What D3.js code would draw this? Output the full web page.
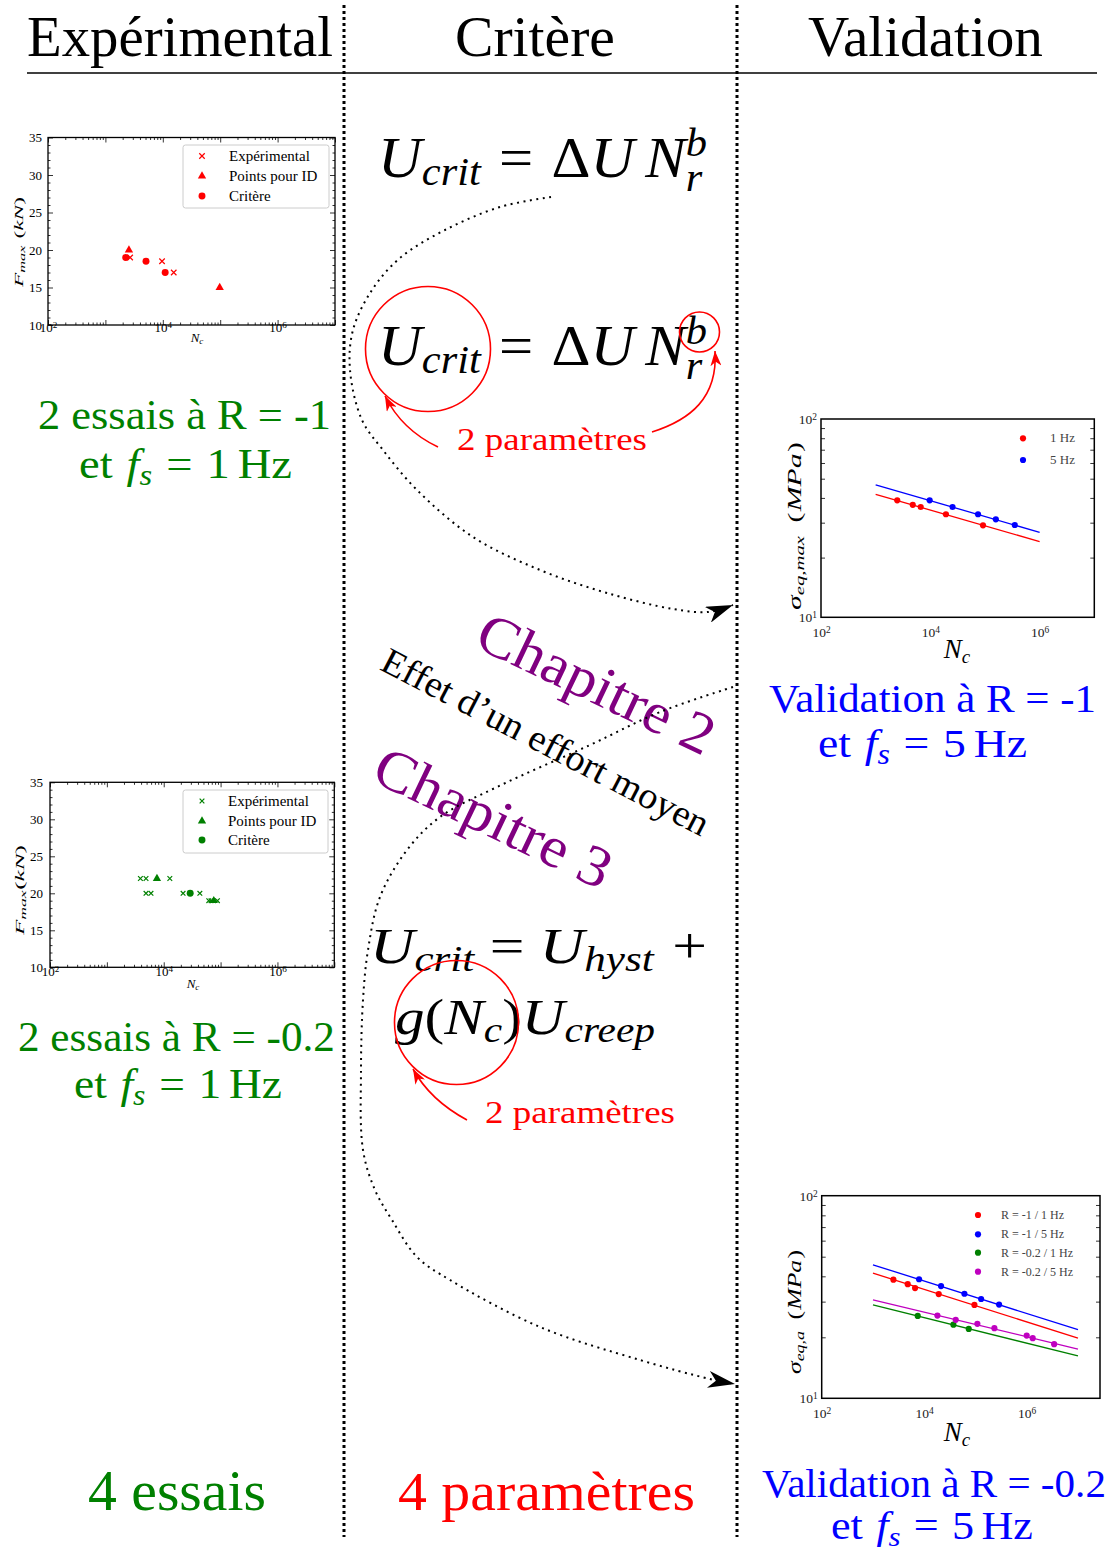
<!DOCTYPE html>
<html><head><meta charset="utf-8">
<script src="https://cdn.jsdelivr.net/npm/d3@7"></script>
<style>body{margin:0;background:#fff}svg{display:block}</style>
</head><body><script>
// ---------------- DATA ----------------
const columnTitles = ["Expérimental", "Critère", "Validation"];
const fTicks = [10, 15, 20, 25, 30, 35];
const fDomain = [10, 35];
const xLabelExps = [2, 4, 6];
const legendLeft = ["Expérimental", "Points pour ID", "Critère"];

// Panel A : R = -1, 1 Hz  (N_c , F_max)
const aExp  = [[2700, 19], [9700, 18.5], [15500, 17]];
const aID   = [[2570, 20], [98000, 15]];
const aCrit = [[2260, 19], [5100, 18.5], [11000, 17]];
// Panel B : R = -0.2, 1 Hz
const bExp  = [[3890, 22], [4880, 22], [12800, 22], [4880, 20], [5970, 20], [21900, 20], [43200, 20], [62000, 19], [68000, 19], [88000, 19]];
const bID   = [[7600, 22], [76000, 19]];
const bCrit = [[29200, 20]];

// Validation 1 (N_c , sigma_eq,max)
const v1Labels = ["1 Hz", "5 Hz"];
const v1Hz = [[2480, 38.9], [4770, 36.9], [6670, 36.0], [19300, 33.1], [92000, 29.1]];
const v5Hz = [[9730, 38.9], [25500, 36.0], [74600, 33.1], [158000, 31.2], [351000, 29.2]];
const v1HzFit = [[1e3, 41.7], [1e6, 24.1]];
const v5HzFit = [[1e3, 46.6], [1e6, 26.8]];

// Validation 2 (N_c , sigma_eq,a)
const v2Labels = ["R = -1 / 1 Hz", "R = -1 / 5 Hz", "R = -0.2 / 1 Hz", "R = -0.2 / 5 Hz"];
const wR1f1  = [[2506, 38.5], [4770, 36.6], [6630, 35.0], [19200, 32.7], [95500, 28.9]];
const wR1f5  = [[7940, 38.7], [21300, 35.8], [60900, 32.8], [129000, 30.9], [289000, 29.0]];
const wR02f1 = [[7480, 25.5], [37150, 23.1], [74000, 22.0]];
const wR02f5 = [[18100, 25.6], [41200, 24.4], [109000, 23.3], [234000, 22.2], [1.0e6, 20.4], [1.31e6, 19.8], [3.43e6, 18.5]];
const wR1f1Fit  = [[1e3, 41.5], [1e7, 19.8]];
const wR1f5Fit  = [[1e3, 45.6], [1e7, 21.8]];
const wR02f1Fit = [[1e3, 28.9], [1e7, 16.2]];
const wR02f5Fit = [[1e3, 30.6], [1e7, 17.5]];

// ---------------- SETUP ----------------
const FONT = '"Liberation Serif","Times New Roman",serif';
const W = 1111, H = 1547;
const svg = d3.select("body").append("svg").attr("width", W).attr("height", H)
  .style("font-family", FONT);
const defs = svg.append("defs");
function arrowMarker(id, color, len, wid) {
  defs.append("marker").attr("id", id).attr("markerUnits", "userSpaceOnUse")
    .attr("viewBox", `0 0 ${len} ${wid}`).attr("markerWidth", len).attr("markerHeight", wid)
    .attr("refX", len).attr("refY", wid / 2).attr("orient", "auto")
    .append("path").attr("d", `M${len},${wid / 2} L0,0 L${len * 0.28},${wid / 2} L0,${wid} Z`).attr("fill", color);
}
arrowMarker("ahBlack", "#000", 27, 17);
arrowMarker("ahRed", "#f00", 15, 11);

// rich text helper (pieces with italic / sub / sup), fitted to a length
function rich(parent, pieces, o) {
  const F = o.F;
  const g = parent.append("g").attr("fill", o.color || "#000");
  const inner = g.append("g");
  let cx = 0;
  const put = (q) => inner.append("text").attr("x", cx).attr("y", (q.dy || 0) * F)
    .attr("font-size", (q.s || 1) * F).attr("font-style", q.i ? "italic" : "normal").text(q.t);
  for (const p of pieces) {
    cx += (p.pre || 0) * F;
    if (p.stack) {
      let w = 0;
      for (const q of p.stack) w = Math.max(w, put(q).node().getComputedTextLength());
      cx += w;
    } else {
      cx += put(p).node().getComputedTextLength();
    }
    cx += (p.post || 0) * F;
  }
  const Wt = cx;
  const sx = o.len ? o.len / Wt : 1;
  const sy = o.uniform ? sx : 1;
  const shift = o.anchor === "middle" ? -Wt / 2 : (o.anchor === "end" ? -Wt : 0);
  inner.attr("transform", `translate(${shift},0)`);
  g.attr("transform", `translate(${o.x},${o.y}) rotate(${o.rot || 0}) scale(${sx},${sy})`);
  return g;
}
const P = (t, extra) => Object.assign({ t }, extra || {});

// ---------------- LAYOUT LINES ----------------
[344, 737].forEach(xv => svg.append("line").attr("x1", xv).attr("x2", xv).attr("y1", 5).attr("y2", 1537)
  .attr("stroke", "#000").attr("stroke-width", 3).attr("stroke-dasharray", "3,3"));
svg.append("line").attr("x1", 27).attr("x2", 1097).attr("y1", 73).attr("y2", 73)
  .attr("stroke", "#000").attr("stroke-width", 1.5);

const titlePos = [[27, 333], [455, 615], [808, 1043]];
columnTitles.forEach((t, i) => rich(svg, [P(t)], { F: 56, x: titlePos[i][0], y: 56, len: titlePos[i][1] - titlePos[i][0] }));

// ---------------- SYMBOLS ----------------
const symX = { draw(c, s) { const r = Math.sqrt(s) / 2; c.moveTo(-r, -r); c.lineTo(r, r); c.moveTo(-r, r); c.lineTo(r, -r); } };
const symbolPath = (type, size) => d3.symbol().type(type).size(size)();

function pow10(sel) {
  sel.selectAll(".tick text").each(function (d) {
    const t = d3.select(this);
    if (!t.text()) return;
    const e = Math.round(Math.log10(d));
    t.text(null);
    t.append("tspan").text("10");
    t.append("tspan").attr("dy", "-0.42em").attr("font-size", "0.7em").text(e);
  });
}
function styleAxis(a, fs, col) {
  a.select(".domain").remove();
  a.attr("color", col || "#000").attr("font-family", FONT).attr("font-size", fs || 12);
  a.selectAll("line").attr("stroke", "#000").attr("stroke-width", 0.8);
}

// ---------------- LEFT PANELS ----------------
function leftPanel(b, exp, id, crit, color, leg, nlab, flab, flabSpace, xsz) {
  const g = svg.append("g");
  const x = d3.scaleLog().domain([1e2, 1e7]).range([b.x0, b.x1]);
  const y = d3.scaleLinear().domain(fDomain).range([b.y1, b.y0]);
  const xMajor = d3.range(2, 8).map(e => Math.pow(10, e));
  const xMinor = [];
  d3.range(2, 7).forEach(e => d3.range(2, 10).forEach(m => xMinor.push(m * Math.pow(10, e))));
  const yMinor = d3.range(fDomain[0], fDomain[1] + 1).filter(v => v % 5 !== 0);
  const add = (tr, axis, fs) => g.append("g").attr("transform", tr).call(axis).call(a => styleAxis(a, fs));
  add(`translate(0,${b.y1})`, d3.axisBottom(x).tickValues(xMinor).tickSize(-2.5).tickFormat(""));
  add(`translate(0,${b.y0})`, d3.axisTop(x).tickValues(xMinor).tickSize(-2.5).tickFormat(""));
  add(`translate(0,${b.y0})`, d3.axisTop(x).tickValues(xMajor).tickSize(-5).tickFormat(""));
  const xb = add(`translate(0,${b.y1})`, d3.axisBottom(x).tickValues(xMajor).tickSize(-5).tickPadding(b.xpad)
    .tickFormat(d => xLabelExps.includes(Math.round(Math.log10(d))) ? "1" : ""), 13);
  pow10(xb);
  add(`translate(${b.x0},0)`, d3.axisLeft(y).tickValues(yMinor).tickSize(-2.5).tickFormat(""));
  add(`translate(${b.x1},0)`, d3.axisRight(y).tickValues(yMinor).tickSize(-2.5).tickFormat(""));
  add(`translate(${b.x1},0)`, d3.axisRight(y).tickValues(fTicks).tickSize(-5).tickFormat(""));
  add(`translate(${b.x0},0)`, d3.axisLeft(y).tickValues(fTicks).tickSize(-5).tickPadding(b.ypad).tickFormat(d3.format("d")), 13);
  g.append("rect").attr("x", b.x0).attr("y", b.y0).attr("width", b.x1 - b.x0).attr("height", b.y1 - b.y0)
    .attr("fill", "none").attr("stroke", "#000").attr("stroke-width", 1.3);

  const draw = (data, type, size, filled) => g.selectAll(null).data(data).join("path")
    .attr("transform", d => `translate(${x(d[0])},${y(d[1])})`)
    .attr("d", symbolPath(type, size))
    .attr("fill", filled ? color : "none").attr("stroke", filled ? "none" : color).attr("stroke-width", 1.2);
  draw(exp, symX, xsz, false);
  draw(id, d3.symbolTriangle, 30, true);
  draw(crit, d3.symbolCircle, 38, true);

  // legend
  g.append("rect").attr("x", leg.x0).attr("y", leg.y0).attr("width", leg.x1 - leg.x0).attr("height", leg.y1 - leg.y0)
    .attr("rx", 2.5).attr("fill", "#fff").attr("stroke", "#ccc").attr("stroke-width", 1);
  const types = [[symX, xsz, false], [d3.symbolTriangle, 30, true], [d3.symbolCircle, 38, true]];
  legendLeft.forEach((lab, i) => {
    const [t, s, f] = types[i];
    g.append("path").attr("transform", `translate(${leg.mx},${leg.rows[i]})`).attr("d", symbolPath(t, s))
      .attr("fill", f ? color : "none").attr("stroke", f ? "none" : color).attr("stroke-width", 1.2);
    g.append("text").attr("x", leg.tx).attr("y", leg.rows[i] + 4.5).attr("font-size", 15).text(lab);
  });
  // axis labels
  rich(g, [P("N", { i: 1 }), P("c", { i: 1, s: 0.7, dy: 0.18 })], { F: 13, x: nlab[0], y: nlab[1], anchor: "middle" });
  rich(g, [P("F", { i: 1 }), P("max", { i: 1, s: 0.7, dy: 0.18 }), P("(", { pre: flabSpace }), P("kN", { i: 1 }), P(")")],
    { F: 13, x: flab[0], y: flab[1], anchor: "middle", rot: -90, len: 90 });
}

leftPanel({ x0: 48, x1: 335, y0: 137.5, y1: 325, xpad: -2, ypad: 6 }, aExp, aID, aCrit, "#ff0000",
  { x0: 183, x1: 329, y0: 145, y1: 208, mx: 202, tx: 229, rows: [156, 176, 196] }, [197, 342], [23, 242], 0.3, 30);
leftPanel({ x0: 50, x1: 334.3, y0: 782.3, y1: 967.3, xpad: -1, ypad: 7 }, bExp, bID, bCrit, "#008000",
  { x0: 183, x1: 328, y0: 790, y1: 853, mx: 202, tx: 228, rows: [801, 821, 840] }, [193, 988], [24, 890], 0.02, 22);

// ---------------- RIGHT PANELS ----------------
function rightPanel(b, xMax, series, leg, ylabPieces, ylab, nlab) {
  const g = svg.append("g");
  const x = d3.scaleLog().domain([1e2, xMax]).range([b.x0, b.x1]);
  const y = d3.scaleLog().domain([10, 100]).range([b.y1, b.y0]);
  const yMinor = d3.range(20, 100, 10);
  const add = (tr, axis, fs) => g.append("g").attr("transform", tr).call(axis).call(a => styleAxis(a, fs, "#222"));
  add(`translate(${b.x0},0)`, d3.axisLeft(y).tickValues(yMinor).tickSize(-4).tickFormat(""));
  add(`translate(${b.x1},0)`, d3.axisRight(y).tickValues(yMinor).tickSize(-4).tickFormat(""));
  const xb = add(`translate(0,${b.y1})`, d3.axisBottom(x).tickValues(xLabelExps.map(e => Math.pow(10, e))).tickSize(0).tickPadding(9.8).tickFormat(() => "1"), 13.5);
  pow10(xb);
  const yb = add(`translate(${b.x0},0)`, d3.axisLeft(y).tickValues([10, 100]).tickSize(0).tickPadding(4).tickFormat(() => "1"), 13.5);
  pow10(yb);
  g.append("rect").attr("x", b.x0).attr("y", b.y0).attr("width", b.x1 - b.x0).attr("height", b.y1 - b.y0)
    .attr("fill", "none").attr("stroke", "#000").attr("stroke-width", 1.5);
  const line = d3.line().x(d => x(d[0])).y(d => y(d[1]));
  series.forEach(s => {
    g.append("path").attr("d", line(s.fit)).attr("fill", "none").attr("stroke", s.color).attr("stroke-width", 1.3);
    g.selectAll(null).data(s.pts).join("path").attr("transform", d => `translate(${x(d[0])},${y(d[1])})`)
      .attr("d", symbolPath(d3.symbolCircle, 30)).attr("fill", s.color);
  });
  series.forEach((s, i) => {
    g.append("path").attr("transform", `translate(${leg.mx},${leg.rows[i]})`).attr("d", symbolPath(d3.symbolCircle, 30)).attr("fill", s.color);
    g.append("text").attr("x", leg.tx).attr("y", leg.rows[i] + 4).attr("font-size", leg.fs).attr("fill", "#444").text(s.label);
  });
  rich(g, ylabPieces, { F: 18, x: ylab[0], y: ylab[1], anchor: "middle", rot: -90, len: ylab[2] });
  rich(g, [P("N", { i: 1 }), P("c", { i: 1, s: 0.7, dy: 0.2 })], { F: 27, x: nlab[0], y: nlab[1], anchor: "middle" });
}

rightPanel({ x0: 821, x1: 1094.3, y0: 419, y1: 617.3 }, 1e7,
  [{ pts: v1Hz, fit: v1HzFit, color: "#ff0000", label: v1Labels[0] },
   { pts: v5Hz, fit: v5HzFit, color: "#0000ff", label: v1Labels[1] }],
  { mx: 1023, tx: 1050, rows: [438.3, 460], fs: 13 },
  [P("σ", { i: 1 }), P("eq,max", { i: 1, s: 0.7, dy: 0.18 }), P("(", { pre: 0.45 }), P("MPa", { i: 1, pre: 0.05, post: 0.05 }), P(")")],
  [801, 526, 168], [957, 658]);

rightPanel({ x0: 821.7, x1: 1100, y0: 1195.7, y1: 1398.3 }, Math.pow(10, 7.43),
  [{ pts: wR1f1, fit: wR1f1Fit, color: "#ff0000", label: v2Labels[0] },
   { pts: wR1f5, fit: wR1f5Fit, color: "#0000ff", label: v2Labels[1] },
   { pts: wR02f1, fit: wR02f1Fit, color: "#008000", label: v2Labels[2] },
   { pts: wR02f5, fit: wR02f5Fit, color: "#bf00bf", label: v2Labels[3] }],
  { mx: 978, tx: 1001, rows: [1215, 1234.3, 1252.7, 1271.7], fs: 12 },
  [P("σ", { i: 1 }), P("eq,a", { i: 1, s: 0.7, dy: 0.18 }), P("(", { pre: 0.45 }), P("MPa", { i: 1, pre: 0.05, post: 0.05 }), P(")")],
  [801, 1312, 124], [957, 1441]);

// ---------------- TEXT BLOCKS ----------------
const GREEN = "#008000", BLUE = "#0000ff", RED = "#ff0000", PURPLE = "#800080";
const etF = (n) => [P("et"), P("f", { i: 1, pre: 0.3 }), P("s", { i: 1, s: 0.7, dy: 0.17 }), P("=", { pre: 0.3, post: 0.3 }), P(n), P("Hz", { pre: 0.17 })];
rich(svg, [P("2 essais à R = -1")], { F: 42, x: 38, y: 429, len: 293, color: GREEN });
rich(svg, etF("1"), { F: 42, x: 79, y: 478, len: 213, color: GREEN });
rich(svg, [P("2 essais à R = -0.2")], { F: 42, x: 18, y: 1051, len: 317, color: GREEN });
rich(svg, etF("1"), { F: 42, x: 74, y: 1098, len: 208, color: GREEN });
rich(svg, [P("4 essais")], { F: 56, x: 88, y: 1510, len: 178, color: GREEN });
rich(svg, [P("4 paramètres")], { F: 56, x: 398, y: 1510, len: 297, color: RED });
rich(svg, [P("Validation à R = -1")], { F: 41, x: 769, y: 712, len: 327, color: BLUE });
rich(svg, etF("5"), { F: 41, x: 818, y: 757, len: 209, color: BLUE });
rich(svg, [P("Validation à R = -0.2")], { F: 41, x: 762, y: 1497, len: 344, color: BLUE });
rich(svg, etF("5"), { F: 40, x: 831, y: 1539, len: 202, color: BLUE });

// formulas
const UcritEq = [P("U", { i: 1 }), P("crit", { i: 1, s: 0.7, dy: 0.14 }), P("=", { pre: 0.3, post: 0.3 }), P("Δ"), P("U", { i: 1 }),
  P("N", { i: 1, pre: 0.18 }), { stack: [P("b", { i: 1, s: 0.7, dy: -0.38 }), P("r", { i: 1, s: 0.7, dy: 0.25 })] }];
rich(svg, UcritEq, { F: 56, x: 378, y: 177, len: 329 });
rich(svg, UcritEq, { F: 56, x: 378, y: 365, len: 329 });
rich(svg, [P("U", { i: 1 }), P("crit", { i: 1, s: 0.7, dy: 0.16 }), P("=", { pre: 0.25, post: 0.25 }), P("U", { i: 1 }),
  P("hyst", { i: 1, s: 0.7, dy: 0.16 }), P("+", { pre: 0.3 })], { F: 50, x: 370, y: 963, len: 337 });
rich(svg, [P("g", { i: 1 }), P("("), P("N", { i: 1 }), P("c", { i: 1, s: 0.7, dy: 0.16 }), P(")"), P("U", { i: 1 }),
  P("creep", { i: 1, s: 0.7, dy: 0.16 })], { F: 50, x: 395, y: 1034, len: 260 });
rich(svg, [P("2 paramètres")], { F: 32, x: 457, y: 450, len: 190, color: RED });
rich(svg, [P("2 paramètres")], { F: 32, x: 485, y: 1123, len: 190, color: RED });

// chapter annotations
rich(svg, [P("Chapitre 2")], { F: 58, x: 588, y: 701, anchor: "middle", rot: 25.5, len: 256, color: PURPLE });
rich(svg, [P("Effet d’un effort moyen")], { F: 37, x: 540, y: 753, anchor: "middle", rot: 27.5, len: 364 });
rich(svg, [P("Chapitre 3")], { F: 58, x: 485, y: 835, anchor: "middle", rot: 25.5, len: 256, color: PURPLE });

// red circles and arrows
const redCircles = [[428, 349, 62.5], [699.5, 332, 20], [456.5, 1022.5, 62]];
redCircles.forEach(c => svg.append("circle").attr("cx", c[0]).attr("cy", c[1]).attr("r", c[2])
  .attr("fill", "none").attr("stroke", RED).attr("stroke-width", 1.6));
const redArrows = ["M438,447 Q402,430 385,396", "M652,432 C690,420 718,398 715,351", "M467,1120 Q430,1100 413,1069"];
redArrows.forEach(d => svg.append("path").attr("d", d).attr("fill", "none").attr("stroke", RED)
  .attr("stroke-width", 1.6).attr("marker-end", "url(#ahRed)"));

// dotted connectors
const curve1 = [[551, 197], [500, 207], [445, 230], [400, 258], [372, 290], [353, 330], [350, 370], [362, 420], [383, 450],
  [417, 490], [473, 537], [540, 570], [607, 593], [673, 609], [708, 612], [733, 605]];
const curve2 = [[733, 687], [660, 712], [590, 745], [497, 787], [440, 817], [407, 850], [380, 897], [368, 950], [363, 1000],
  [361, 1070], [363, 1150], [375, 1190], [392, 1220], [417, 1257], [450, 1280], [540, 1327], [640, 1360], [710, 1379], [735, 1384]];
const dl = d3.line().curve(d3.curveCatmullRom.alpha(0.5));
[curve1, curve2].forEach(c => svg.append("path").attr("d", dl(c)).attr("fill", "none").attr("stroke", "#000")
  .attr("stroke-width", 2).attr("stroke-dasharray", "2,4.5").attr("marker-end", "url(#ahBlack)"));
</script></body></html>
